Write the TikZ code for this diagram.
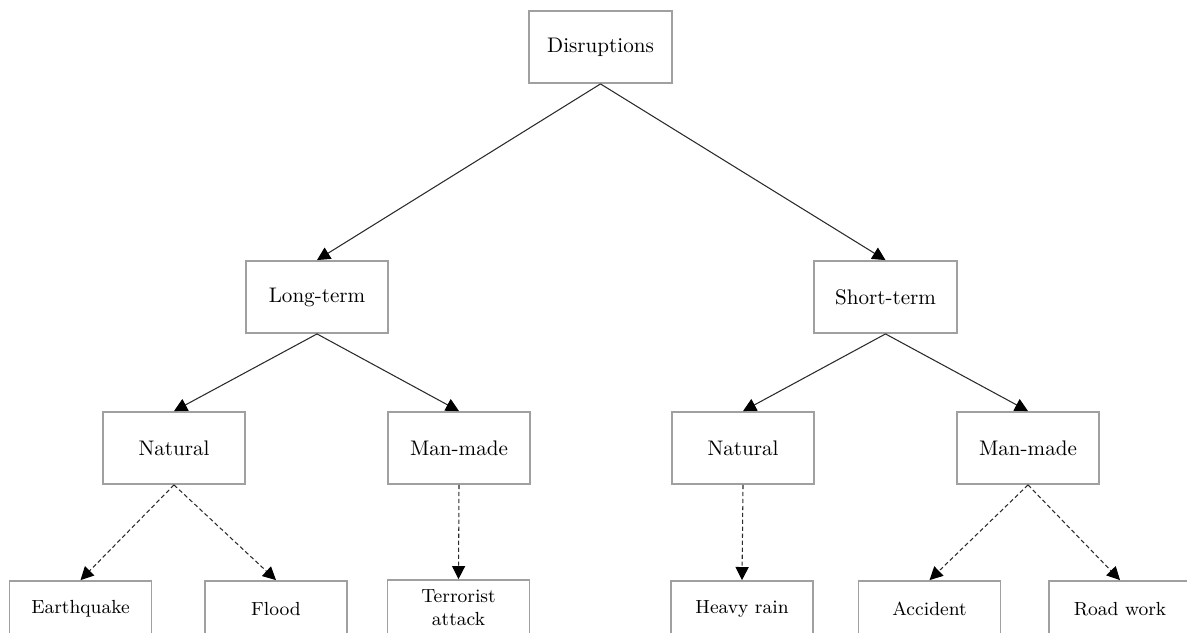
\documentclass[tikz,border=0pt]{standalone}
\usetikzlibrary{arrows.meta}
\definecolor{boxgray}{HTML}{A0A0A0}
\definecolor{linegray}{HTML}{2A2A2A}
\begin{document}
\begin{tikzpicture}[x=0.474pt,y=-0.474pt,
  catbox/.style={draw=boxgray,line width=0.9pt,minimum width=67.6pt,minimum height=34.1pt,inner sep=2pt,font=\normalsize},
  leafbox/.style={draw=boxgray,line width=0.9pt,minimum width=67.3pt,minimum height=26.5pt,inner sep=1pt,align=center,font=\small},
  solidarrow/.style={draw=linegray,line width=0.5pt,-{Triangle[length=6.2pt,width=6.2pt,color=black]}},
  dasharrow/.style={draw=linegray,line width=0.5pt,dash pattern=on 2pt off 1.3pt,-{Triangle[length=6.2pt,width=6.2pt,color=black]}}
]
\useasboundingbox (0,0) rectangle (1187,632);
\node[catbox] (dis) at (600.5,47) {Disruptions};
\node[catbox] (lt) at (317,297) {Long-term};
\node[catbox] (st) at (885.5,297) {Short-term};
\node[catbox] (ln) at (174,448) {Natural};
\node[catbox] (lm) at (459,448) {Man-made};
\node[catbox] (sn) at (743,448) {Natural};
\node[catbox] (sm) at (1028,448) {Man-made};
\node[leafbox] (eq) at (80.5,609) {Earthquake};
\node[leafbox] (fl) at (276,609) {Flood};
\node[leafbox] (ta) at (458.5,608) {Terrorist\\attack};
\node[leafbox] (hr) at (742,609) {Heavy rain};
\node[leafbox] (ac) at (929.5,609) {Accident};
\node[leafbox] (rw) at (1120,609) {Road work};
\draw[solidarrow] (dis.south) -- (lt.north);
\draw[solidarrow] (dis.south) -- (st.north);
\draw[solidarrow] (lt.south) -- (ln.north);
\draw[solidarrow] (lt.south) -- (lm.north);
\draw[solidarrow] (st.south) -- (sn.north);
\draw[solidarrow] (st.south) -- (sm.north);
\draw[dasharrow] (ln.south) -- (eq.north);
\draw[dasharrow] (ln.south) -- (fl.north);
\draw[dasharrow] (lm.south) -- (ta.north);
\draw[dasharrow] (sn.south) -- (hr.north);
\draw[dasharrow] (sm.south) -- (ac.north);
\draw[dasharrow] (sm.south) -- (rw.north);
\end{tikzpicture}
\end{document}
